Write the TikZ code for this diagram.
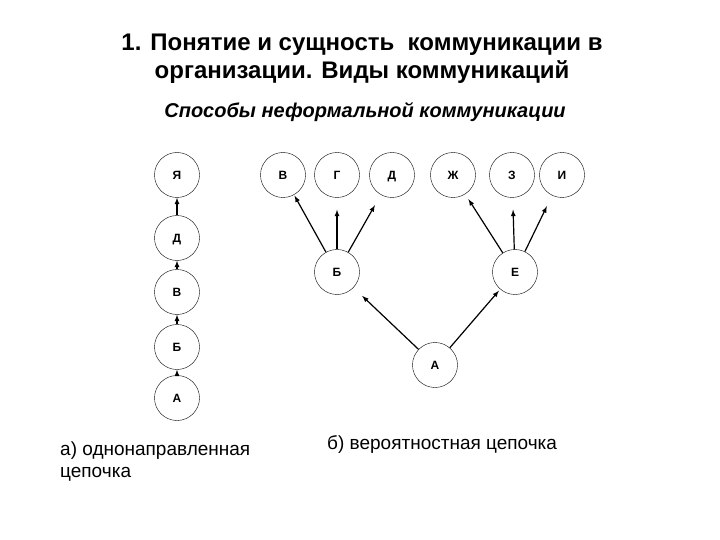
\documentclass[tikz,border=0pt]{standalone}
\usepackage{fontspec}
\setmainfont{Liberation Sans}
\begin{document}
\begin{tikzpicture}[x=1pt,y=-1pt,
  circ/.style={draw,circle,minimum size=45pt,inner sep=0pt,text height=8.5pt,text depth=0pt,font=\fontsize{12}{14}\selectfont\bfseries},
  arr/.style={-latex,line width=1.2pt}]
\useasboundingbox (0,0) rectangle (720,540);
\fill[white] (0,0) rectangle (720,540);
\node[font=\fontsize{24}{28}\selectfont\bfseries,align=center] (t) at (362,59) {1. Понятие и сущность\ \ коммуникации в\\организации. Виды коммуникаций};
\node[font=\fontsize{20}{24}\selectfont\bfseries\itshape] (st) at (365,112) {Способы неформальной коммуникации};
% left chain
\node[circ] (ya) at (177,175) {Я};
\node[circ] (ld) at (177,238) {Д};
\node[circ] (lv) at (177,292) {В};
\node[circ] (lb) at (177,347) {Б};
\node[circ] (la) at (177,398) {А};
\draw[arr] (la) -- (lb);
\draw[arr] (lb) -- (lv);
\draw[arr] (lv) -- (ld);
\draw[arr] (ld) -- (ya);
% tree
\node[circ] (v) at (283,175) {В};
\node[circ] (g) at (337,175) {Г};
\node[circ] (d) at (392,175) {Д};
\node[circ] (zh) at (453,175) {Ж};
\node[circ] (z) at (512,175) {З};
\node[circ] (i) at (562,175) {И};
\node[circ] (b) at (337,272) {Б};
\node[circ] (e) at (515,272) {Е};
\node[circ] (a) at (435,365) {А};
\draw[arr,shorten >=1pt] (b) -- (v);
\draw[arr,shorten >=12pt] (b) -- (g);
\draw[arr,shorten >=12pt] (b) -- (d);
\draw[arr,shorten >=6pt] (e) -- (zh);
\draw[arr,shorten >=12pt] (e) -- (z);
\draw[arr,shorten >=12pt] (e) -- (i);
\draw[arr,shorten >=12pt] (a) -- (b);
\draw[arr,shorten >=2pt] (a) -- (e);
% captions
\node[font=\fontsize{19}{22}\selectfont,align=left,anchor=north west,inner sep=0pt] (c1) at (60,442) {а) однонаправленная\\цепочка};
\node[font=\fontsize{19}{22}\selectfont,anchor=west,inner sep=0pt] (c2) at (327,445) {б) вероятностная цепочка};
\end{tikzpicture}
\end{document}
